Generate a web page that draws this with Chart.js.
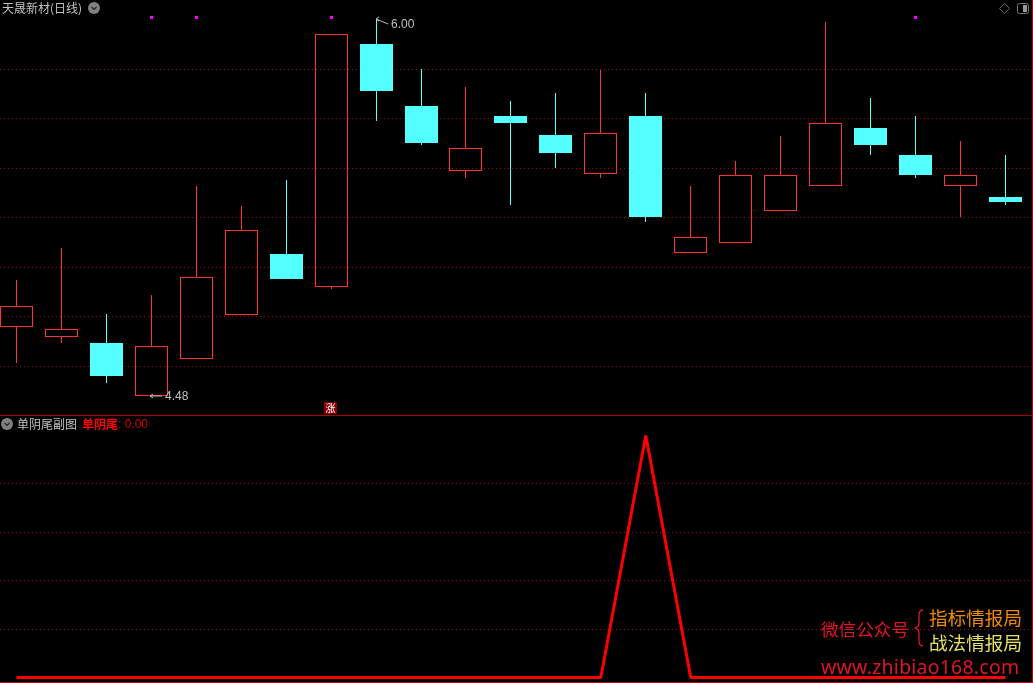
<!DOCTYPE html>
<html>
<head>
<meta charset="utf-8">
<title>天晟新材(日线)</title>
<script src="https://cdn.jsdelivr.net/npm/chart.js@4/dist/chart.umd.min.js"></script>
<style>
  html, body { margin: 0; padding: 0; background: #000; overflow: hidden; }
  #wrap { position: relative; width: 1033px; height: 683px; background: #000; box-sizing: border-box;
          border-right: 1px solid #c00000; border-bottom: 1px solid #d00000; font-family: "Noto Sans CJK SC", sans-serif; }
  canvas { position: absolute; left: 0; display: block; }
  #sep { position: absolute; left: 0; top: 415px; width: 1032px; height: 1px; background: #a80000; }
  .t { position: absolute; white-space: nowrap; line-height: 1; }
  svg { position: absolute; }
</style>
</head>
<body>
<div id="wrap">
  <canvas id="priceChart" width="1032" height="415" style="top:0"></canvas>
  <div id="sep"></div>
  <canvas id="signalChart" width="1032" height="266" style="top:416px"></canvas>

  <span class="t" id="title" style="left:2px;top:2px;font-size:12px;color:#c0c0c0">天晟新材(日线)</span>
  <svg style="left:88px;top:2px" width="12" height="12"><circle cx="6" cy="6" r="6" fill="#808080"/><path d="M3.5 5 L6 7.5 L8.5 5" fill="none" stroke="#222" stroke-width="1.2"/></svg>
  <svg style="left:999px;top:3px" width="12" height="12"><path d="M5.5 .5 L10.5 5.5 L5.5 10.5 L.5 5.5 Z" fill="none" stroke="#666"/></svg>
  <svg style="left:1017px;top:3px" width="12" height="12"><rect x=".5" y=".5" width="11" height="10" rx="2" fill="none" stroke="#777"/><rect x="6" y="2" width="4" height="7" fill="#999"/></svg>

  <span class="t" style="left:324px;top:402px;width:13px;height:12px;background:#8b0000;color:#fff;font-size:10px;line-height:12px;text-align:center">涨</span>

  <svg style="left:1px;top:418px" width="12" height="12"><circle cx="6" cy="6" r="6" fill="#808080"/><path d="M3.5 5 L6 7.5 L8.5 5" fill="none" stroke="#222" stroke-width="1.2"/></svg>
  <span class="t" style="left:17px;top:418px;font-size:12px;color:#c0c0c0">单阴尾副图</span>
  <span class="t" style="left:82px;top:418px;font-size:12px;color:#ff0000;font-weight:700">单阴尾</span>
  <span class="t" id="lastVal" style="left:118px;top:418px;font-size:12px;color:#d80000;font-family:'Liberation Sans'"></span>

  <span class="t" style="left:821px;top:620px;font-size:17.6px;color:#e01428">微信公众号</span>
  <svg style="left:913px;top:608px" width="14" height="40"><path d="M10 2 C6 2 6 5 6 9 L6 14 C6 18 5 19 2 20 C5 21 6 22 6 26 L6 31 C6 35 6 38 10 38" fill="none" stroke="#e01428" stroke-width="1.3"/></svg>
  <span class="t" style="left:929px;top:608px;font-size:18.6px;color:#f08a00">指标情报局</span>
  <span class="t" style="left:929px;top:633px;font-size:18.6px;color:#e6e060">战法情报局</span>
  <span class="t" style="left:821px;top:657px;font-size:19.4px;color:#e01428;font-family:'Noto Sans';letter-spacing:.27px">www.zhibiao168.com</span>
</div>

<script>
// daily candles
const opens  = [4.761, 4.720, 4.695, 4.480, 4.632, 4.809, 5.054, 4.922, 5.901, 5.651, 5.390, 5.611, 5.534, 5.378, 5.611, 5.059, 5.099, 5.229, 5.329, 5.562, 5.453, 5.329, 5.284];
const closes = [4.844, 4.751, 4.562, 4.683, 4.961, 5.151, 4.953, 5.941, 5.711, 5.502, 5.481, 5.582, 5.461, 5.542, 5.203, 5.122, 5.373, 5.373, 5.582, 5.494, 5.373, 5.373, 5.264];
const highs  = [4.949, 5.078, 4.812, 4.888, 5.328, 5.248, 5.352, 5.941, 6.000, 5.800, 5.728, 5.671, 5.703, 5.796, 5.703, 5.328, 5.429, 5.530, 5.990, 5.683, 5.611, 5.510, 5.453];
const lows   = [4.615, 4.696, 4.535, 4.480, 4.632, 4.809, 4.953, 4.914, 5.590, 5.495, 5.362, 5.252, 5.401, 5.362, 5.183, 5.059, 5.099, 5.229, 5.329, 5.453, 5.360, 5.203, 5.252];

// magenta signals along the top of the pane
const markerDays = [3, 4, 7, 20];
const markerBand = [6.002, 6.014];

// lower pane, 单阴尾 indicator
const signal = [0, 0, 0, 0, 0, 0, 0, 0, 0, 0, 0, 0, 0, 0, 1, 0, 0, 0, 0, 0, 0, 0, 0];

const priceTicks  = [4.6, 4.8, 5.0, 5.2, 5.4, 5.6, 5.8];
const signalTicks = [0.2, 0.4, 0.6, 0.8];

const RED = '#ff3232';
const CYAN = '#54ffff';
const GRID = '#b00000';
const LABEL = '#c0c0c0';

const days = opens.map((_, i) => i);
const isUp = days.map(i => closes[i] >= opens[i]);
const candleColor = days.map(i => isUp[i] ? RED : CYAN);

// x axis shared by both panes, 16.48px in and 44.95px per day
const xAxis = {
  type: 'linear',
  display: false,
  offset: false,
  min: -0.3666,
  max: 22.5922
};

function yAxis(min, max, tickValues) {
  return {
    min: min,
    max: max,
    afterBuildTicks: axis => { axis.ticks = tickValues.map(v => ({ value: v })); },
    ticks: { display: false },
    border: { display: false, dash: [1, 3] },
    grid: { color: GRID, lineWidth: 1, drawTicks: false }
  };
}

// bars come out on fractions of a pixel, snap them so the edges stay sharp
const snapBars = {
  id: 'snapBars',
  beforeDatasetDraw(chart, args) {
    if (args.meta.type !== 'bar') return;
    args.meta.data.forEach(el => {
      el.x = Math.round(el.x - el.width / 2) + el.width / 2;
      el.y = Math.round(el.y);
      el.base = Math.round(el.base);
    });
  }
};

// 6.00 / 4.48 callouts on the highest high and lowest low
function drawCallout(ctx, x, y, tx, ty, text) {
  ctx.save();
  ctx.strokeStyle = LABEL;
  ctx.lineWidth = 1;
  ctx.beginPath();
  ctx.moveTo(x, y);
  ctx.lineTo(tx - 3, ty);
  ctx.moveTo(x, y);
  ctx.lineTo(x + 3, y - 2);
  ctx.moveTo(x, y);
  ctx.lineTo(x + 3, y + 2);
  ctx.stroke();
  ctx.fillStyle = LABEL;
  ctx.font = '12px "Liberation Sans"';
  ctx.textBaseline = 'middle';
  ctx.fillText(text, tx, ty + 1);
  ctx.restore();
}

const callouts = {
  id: 'callouts',
  afterDatasetsDraw(chart) {
    const { x, y } = chart.scales;
    const ctx = chart.ctx;
    const hi = highs.indexOf(Math.max(...highs));
    const lo = lows.indexOf(Math.min(...lows));
    drawCallout(ctx, Math.round(x.getPixelForValue(hi)), Math.round(y.getPixelForValue(highs[hi])), 391, 24, highs[hi].toFixed(2));
    drawCallout(ctx, Math.round(x.getPixelForValue(lo)) - 1, Math.round(y.getPixelForValue(lows[lo])), 165, 396, lows[lo].toFixed(2));
  }
};

const baseOptions = {
  responsive: false,
  animation: false,
  events: [],
  layout: { padding: 0 },
  plugins: { legend: { display: false }, tooltip: { enabled: false }, title: { display: false } }
};

new Chart(document.getElementById('priceChart').getContext('2d'), {
  type: 'bar',
  data: {
    datasets: [
      {
        label: 'body',
        data: days.map(i => ({ x: i, y: [opens[i], closes[i]] })),
        barThickness: 33,
        grouped: false,
        backgroundColor: days.map(i => isUp[i] ? 'rgba(0,0,0,0)' : CYAN),
        borderColor: candleColor,
        borderWidth: 1,
        borderSkipped: false,
        inflateAmount: 0
      },
      {
        label: 'upper wick',
        data: days.map(i => ({ x: i, y: [Math.max(opens[i], closes[i]), highs[i]] })),
        barThickness: 1,
        grouped: false,
        backgroundColor: candleColor,
        borderWidth: 0,
        inflateAmount: 0
      },
      {
        label: 'lower wick',
        data: days.map(i => ({ x: i, y: [lows[i], Math.min(opens[i], closes[i])] })),
        barThickness: 1,
        grouped: false,
        backgroundColor: candleColor,
        borderWidth: 0,
        inflateAmount: 0
      },
      {
        label: 'marker',
        data: markerDays.map(d => ({ x: d, y: markerBand })),
        barThickness: 3,
        grouped: false,
        backgroundColor: '#ff00ff',
        borderWidth: 0,
        inflateAmount: 0
      }
    ]
  },
  options: {
    ...baseOptions,
    scales: { x: xAxis, y: yAxis(4.4044, 6.0784, priceTicks) }
  },
  plugins: [snapBars, callouts]
});

new Chart(document.getElementById('signalChart').getContext('2d'), {
  type: 'line',
  data: {
    datasets: [{
      label: '单阴尾',
      data: days.map(i => ({ x: i, y: signal[i] })),
      borderColor: '#ff0000',
      borderWidth: 3,
      borderJoinStyle: 'bevel',
      pointRadius: 0,
      tension: 0,
      fill: false
    }]
  },
  options: {
    ...baseOptions,
    scales: { x: xAxis, y: yAxis(-0.0186, 1.0806, signalTicks) }
  }
});

document.getElementById('lastVal').textContent = ': ' + signal[signal.length - 1].toFixed(2);
</script>
</body>
</html>
